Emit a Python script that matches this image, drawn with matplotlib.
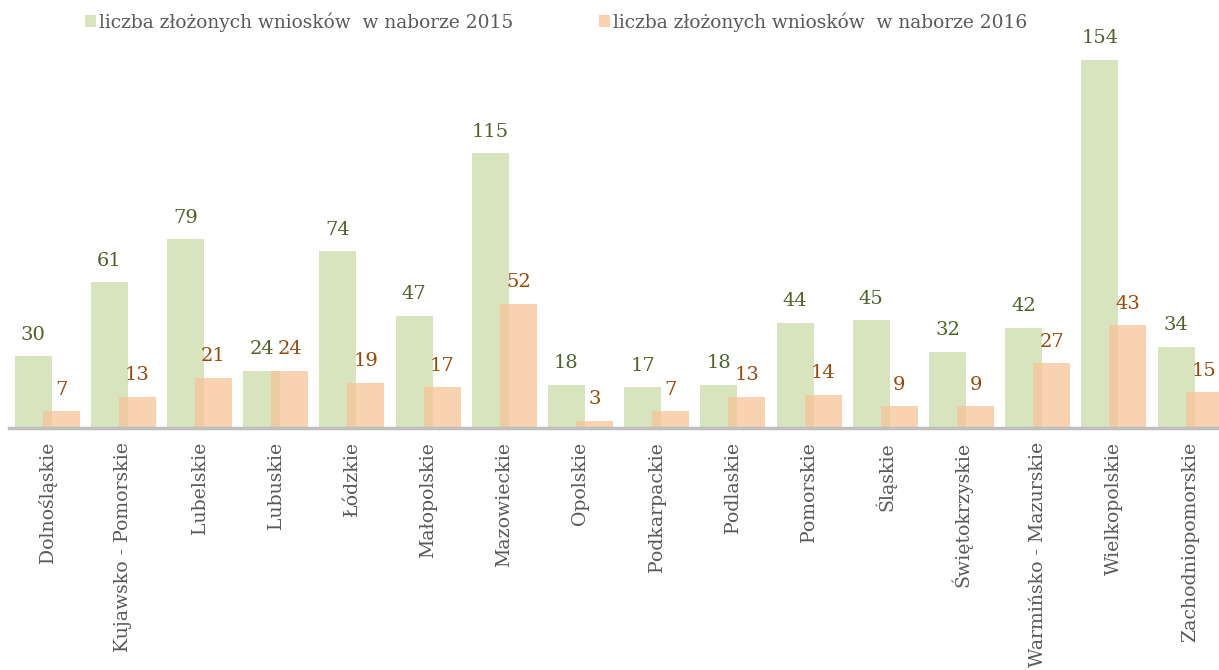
import numpy as np
import matplotlib.pyplot as plt

regions = ["Dolnośląskie", "Kujawsko - Pomorskie", "Lubelskie", "Lubuskie", "Łódzkie",
           "Małopolskie", "Mazowieckie", "Opolskie", "Podkarpackie", "Podlaskie",
           "Pomorskie", "Śląskie", "Świętokrzyskie", "Warmińsko - Mazurskie",
           "Wielkopolskie", "Zachodniopomorskie"]
n2015 = [30, 61, 79, 24, 74, 47, 115, 18, 17, 18, 44, 45, 32, 42, 154, 34]
n2016 = [7, 13, 21, 24, 19, 17, 52, 3, 7, 13, 14, 9, 9, 27, 43, 15]

plt.rcParams['font.family'] = ['DejaVu Serif']

fig = plt.figure(figsize=(12.19, 6.70), dpi=100)
ax = fig.add_axes([9 / 1219, 242 / 670, 16 * 76.2 / 1219, 170 * 2.39 / 670])

x = np.arange(len(regions))
w = 0.485
off = 0.184
ax.bar(x - off, n2015, w, color='#D7E4BD', label='liczba złożonych wniosków  w naborze 2015')
ax.bar(x + off, n2016, w, color='#F7C397', alpha=0.75,
       label='liczba złożonych wniosków  w naborze 2016')

for xi, v in zip(x, n2015):
    ax.annotate(str(v), (xi - off, v), xytext=(0, 9), textcoords='offset points',
                ha='center', va='bottom', fontsize=14, color='#4F6228')
for xi, v in zip(x, n2016):
    ax.annotate(str(v), (xi + off, v), xytext=(0, 9), textcoords='offset points',
                ha='center', va='bottom', fontsize=14, color='#984807')

ax.set_xlim(-0.5, len(regions) - 0.5)
ax.set_ylim(0, 170)
ax.set_yticks([])
ax.set_xticks(x)
ax.set_xticklabels(regions, rotation=90, fontsize=13.6, color='#595959')
ax.tick_params(axis='x', length=0, pad=10)
for s in ['top', 'right', 'left']:
    ax.spines[s].set_visible(False)
ax.spines['bottom'].set_color('#BFBFBF')
ax.spines['bottom'].set_linewidth(2.5)

leg = fig.legend(loc='center', bbox_to_anchor=(556 / 1219, 1 - 22 / 670), ncol=2,
                 frameon=False, fontsize=13.4, handlelength=0.6, handleheight=0.6,
                 handletextpad=0.15, columnspacing=4.6)
for t in leg.get_texts():
    t.set_color('#595959')

fig.savefig('out.png', dpi=100)
